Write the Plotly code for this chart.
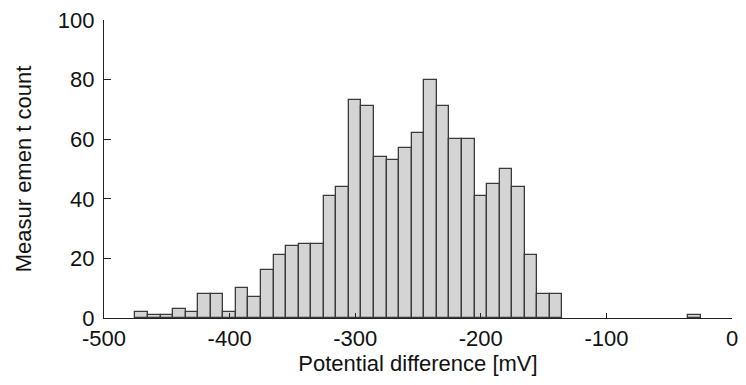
import plotly.graph_objects as go

# Bin centres (mV) and counts
bin_centers = [-470, -460, -450, -440, -430, -420, -410, -400, -390, -380,
               -370, -360, -350, -340, -330, -320, -310, -300, -290, -280,
               -270, -260, -250, -240, -230, -220, -210, -200, -190, -180,
               -170, -160, -150, -140, -30]
counts = [2, 1, 1, 3, 2, 8, 8, 2, 10, 7,
          16, 21, 24, 25, 25, 41, 44, 73, 71, 54,
          53, 57, 62, 80, 71, 60, 60, 41, 45, 50,
          44, 21, 8, 8, 1]
bin_width = 10

x_ticks = [-500, -400, -300, -200, -100, 0]
y_ticks = [0, 20, 40, 60, 80, 100]

FONT = "Liberation Sans, Arial, sans-serif"

fig = go.Figure()
fig.add_trace(go.Bar(
    x=bin_centers,
    y=counts,
    width=[bin_width] * len(bin_centers),
    marker=dict(color="#d4d4d4", line=dict(color="#3a3a3a", width=1.3)),
    showlegend=False,
))

fig.update_layout(
    width=746, height=385,
    margin=dict(l=104, r=8, t=18, b=67),
    paper_bgcolor="white", plot_bgcolor="white",
    font=dict(family=FONT, size=22, color="#111111"),
    bargap=0,
    xaxis=dict(
        range=[-500, 0],
        tickvals=x_ticks,
        ticktext=[str(v) for v in x_ticks],
        ticks="inside", ticklen=5, tickwidth=1, tickcolor="#222222",
        showline=True, linecolor="#222222", linewidth=1.2,
        showgrid=False, zeroline=False,
        title=dict(text="Potential difference [mV]", font=dict(size=22), standoff=6),
        tickfont=dict(size=22),
    ),
    yaxis=dict(
        range=[0, 100],
        tickvals=y_ticks,
        ticks="inside", ticklen=7, tickwidth=1, tickcolor="#222222",
        showline=True, linecolor="#222222", linewidth=1.2,
        showgrid=False, zeroline=False,
        ticklabelstandoff=4,
        title=dict(text="Measur emen t count", font=dict(size=22), standoff=20),
        tickfont=dict(size=22),
    ),
)

fig.write_html("out.html")
